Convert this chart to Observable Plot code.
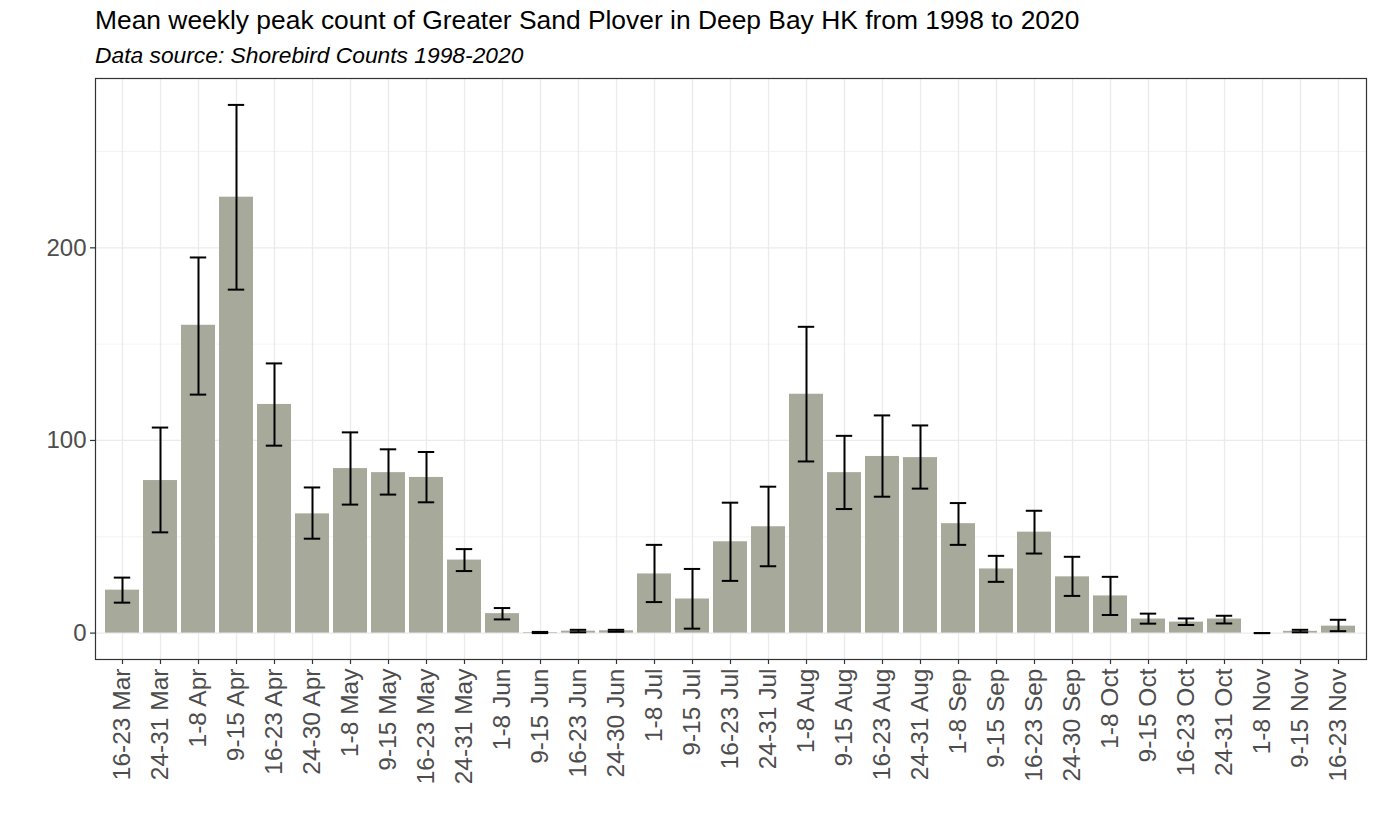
<!DOCTYPE html>
<html>
<head>
<meta charset="utf-8">
<script src="https://cdn.jsdelivr.net/npm/d3@7"></script>
<script src="https://cdn.jsdelivr.net/npm/@observablehq/plot@0.6"></script>
<style>
  html, body { margin: 0; padding: 0; background: #fff; }
  #wrap { position: relative; width: 1378px; height: 827px; font-family: "Liberation Sans", Arial, sans-serif; }
  #title { position: absolute; left: 95px; top: 7px; font-size: 26.4px; line-height: 1; color: #000; white-space: nowrap; }
  #subtitle { position: absolute; left: 95px; top: 44px; font-size: 22.8px; line-height: 1; font-style: italic; color: #000; white-space: nowrap; }
  #chart { position: absolute; left: 0; top: 70px; }
</style>
</head>
<body>
<div id="wrap">
  <div id="title">Mean weekly peak count of Greater Sand Plover in Deep Bay HK from 1998 to 2020</div>
  <div id="subtitle">Data source: Shorebird Counts 1998-2020</div>
  <div id="chart"></div>
</div>
<script>
const weeks = ["16-23 Mar","24-31 Mar","1-8 Apr","9-15 Apr","16-23 Apr","24-30 Apr","1-8 May","9-15 May","16-23 May","24-31 May",
  "1-8 Jun","9-15 Jun","16-23 Jun","24-30 Jun","1-8 Jul","9-15 Jul","16-23 Jul","24-31 Jul","1-8 Aug","9-15 Aug",
  "16-23 Aug","24-31 Aug","1-8 Sep","9-15 Sep","16-23 Sep","24-30 Sep","1-8 Oct","9-15 Oct","16-23 Oct","24-31 Oct",
  "1-8 Nov","9-15 Nov","16-23 Nov"];
const means = [22.3, 79.2, 159.8, 226.3, 118.7, 61.9, 85.4, 83.3, 80.8, 37.9,
  10.1, 0.3, 1.0, 1.2, 30.7, 17.7, 47.4, 55.2, 124.0, 83.3,
  91.7, 91.1, 56.8, 33.3, 52.4, 29.2, 19.3, 7.3, 5.7, 7.3,
  0.0, 0.9, 3.6];
const lower = [15.8, 52.3, 123.8, 178.3, 97.3, 49.0, 66.7, 71.9, 67.9, 32.2,
  7.1, 0.0, 0.4, 0.7, 16.1, 2.3, 27.1, 34.7, 89.1, 64.4,
  70.8, 75.0, 45.8, 26.6, 41.3, 19.3, 9.4, 4.9, 4.2, 5.0,
  0.0, 0.4, 1.0];
const upper = [28.8, 106.7, 195.0, 274.2, 140.0, 75.6, 104.2, 95.4, 94.0, 43.6,
  13.0, 0.6, 1.7, 1.7, 45.8, 33.3, 67.7, 76.0, 159.0, 102.4,
  113.0, 107.8, 67.5, 40.1, 63.5, 39.6, 29.2, 10.1, 7.6, 9.0,
  0.0, 1.7, 6.9];
const yTicks = [0, 100, 200];
const yMinor = [50, 150, 250];

const data = weeks.map((w, i) => ({week: w, mean: means[i], lo: lower[i], hi: upper[i]}));
const yMax = d3.max(upper), yMin = 0;
const pad = (yMax - yMin) * 0.05;

const chart = Plot.plot({
  width: 1378,
  height: 757,
  marginTop: 8,
  marginBottom: 168,
  marginLeft: 95,
  marginRight: 12,
  style: {fontFamily: '"Liberation Sans", Arial, sans-serif', background: "#fff"},
  x: {type: "band", domain: weeks, paddingInner: 0.1, paddingOuter: 0.15, label: null},
  y: {domain: [yMin - pad, yMax + pad], label: null},
  marks: [
    Plot.ruleY(yMinor, {stroke: "#ebebeb", strokeWidth: 0.6}),
    Plot.ruleY(yTicks, {stroke: "#ebebeb", strokeWidth: 1.3}),
    Plot.ruleX(weeks, {x: d => d, stroke: "#ebebeb", strokeWidth: 1.3}),
    Plot.barY(data, {x: "week", y1: 0, y2: "mean", fill: "#a7a99a"}),
    Plot.ruleX(data, {x: "week", y1: "lo", y2: "hi", stroke: "#000", strokeWidth: 2}),
    Plot.tickY(data, {x: "week", y: "lo", stroke: "#000", strokeWidth: 2, insetLeft: 8.8, insetRight: 8.8}),
    Plot.tickY(data, {x: "week", y: "hi", stroke: "#000", strokeWidth: 2, insetLeft: 8.8, insetRight: 8.8}),
    Plot.frame({stroke: "#333", strokeWidth: 1.2}),
    Plot.axisY(yTicks, {tickSize: 5, tickPadding: 4, fontSize: 24, fill: "#4d4d4d", stroke: "#333", strokeWidth: 1.2, label: null}),
    Plot.axisX({tickSize: 5, tickPadding: 4, tickRotate: -90, fontSize: 24.5, fill: "#4d4d4d", stroke: "#333", strokeWidth: 1.2, label: null})
  ]
});
document.getElementById("chart").appendChild(chart);
</script>
</body>
</html>
